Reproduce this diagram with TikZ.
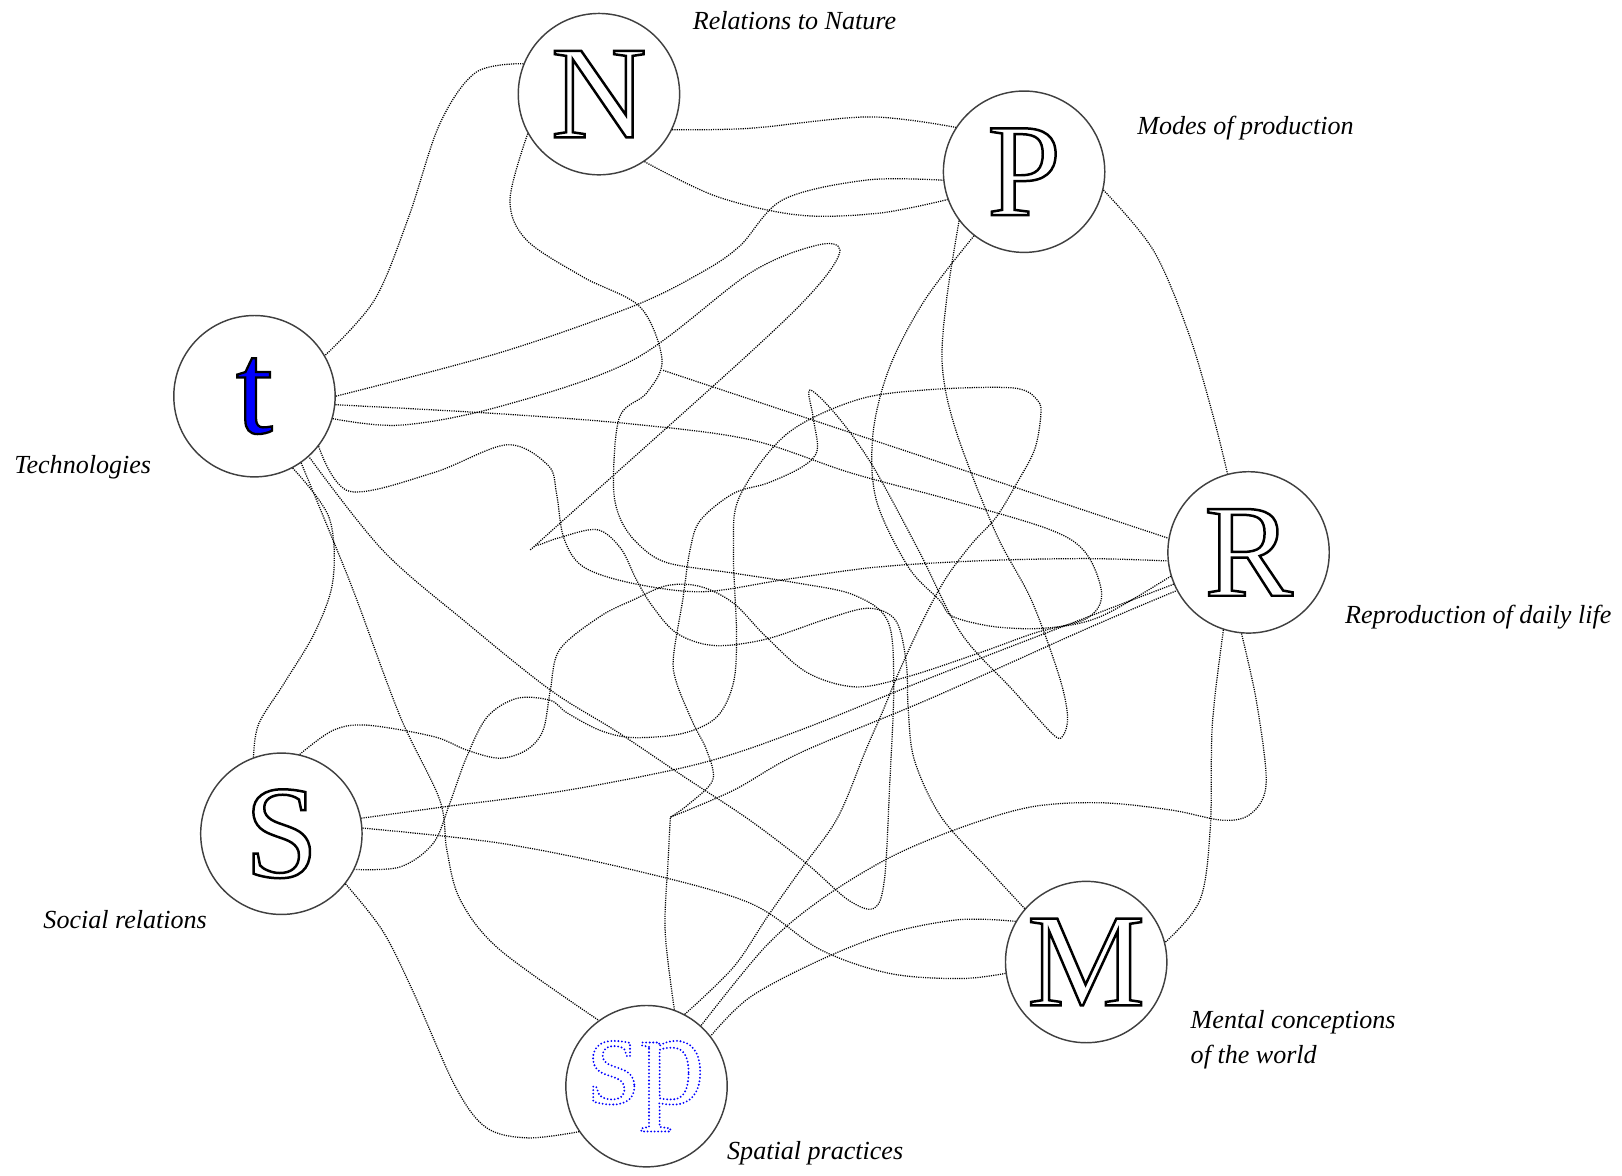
\documentclass[tikz,border=0pt]{standalone}
\usepackage{fontspec}
\setmainfont{Liberation Serif}
% outline lettering through the pdf text render mode
\newcommand\hollow[1]{\special{pdf:literal direct 1 Tr 1.2 w}#1\special{pdf:literal direct 0 Tr}}
\newcommand\inked[1]{\special{pdf:literal direct 2 Tr 0 0 0 RG 1.1 w}#1\special{pdf:literal direct 0 Tr}}
\newcommand\speckled[1]{\special{pdf:literal direct 1 Tr 1 w 1 J [0 1.7] 0 d}#1\special{pdf:literal direct 0 Tr [] 0 d 0 J}}
\begin{document}
\begin{tikzpicture}[x=0.5pt,y=-0.5pt,
  sphere/.style={circle,draw=black!75,line width=0.7pt,minimum size=78pt,inner sep=0pt,
    font=\fontsize{64}{64}\selectfont},
  caption/.style={font=\fontsize{12.6}{17}\selectfont\itshape},
  tie/.style={line width=0.6pt,dash pattern=on 0.55pt off 0.55pt,black},
  wiggle/.style={tie,smooth,tension=0.55}]
\useasboundingbox (0,0) rectangle (1568,1136);
% the seven spheres
\node[sphere] (N) at (579,91) {\hollow{N}};
\node[sphere] (P) at (990,166) {\hollow{P}};
\node[sphere] (t) at (246,383) {\color{blue}\inked{t}};
\node[sphere] (R) at (1207,534) {\hollow{R}};
\node[sphere] (S) at (272,806) {\hollow{S}};
\node[sphere] (M) at (1050,930) {\hollow{M}};
\node[sphere] (sp) at (625,1050) {\color{blue}\speckled{sp}};
% captions
\node[caption] (lN) at (768,20) {Relations to Nature};
\node[caption] (lP) at (1204,124) {Modes of production};
\node[caption] (lt) at (80,452) {Technologies};
\node[caption] (lR) at (1429,597) {Reproduction of daily life};
\node[caption] (lS) at (121,889) {Social relations};
\node[caption,anchor=west,align=left] (lM) at (1144,1005) {Mental conceptions\\of the world};
\node[caption] (lsp) at (788,1115) {Spatial practices};
% loose ends
\coordinate (hook) at (648,790);
\coordinate (stub) at (641,358);
% the tangle
\draw[wiggle] plot coordinates {(N.158) (460,70) (425,120) (395,210) (362,290) (t.30)};
\draw[wiggle] plot coordinates {(N.-26) (725,124) (840,113) (P.147)};
\draw[wiggle] plot coordinates {(N.-56) (693,190) (773,208) (850,206) (P.200)};
\draw[wiggle] plot coordinates {(t.0) (483,341) (612,296) (677,264) (715,238) (757,193) (838,174) (P.186)};
\draw[wiggle] plot coordinates {(N.209) (493,193) (509,232) (564,268) (619,297) (640,348) (625,380) (599,403) (593,467) (599,500) (616,525) (645,544) (709,554) (773,564) (825,575) (858,600) (864,660) (860,760) (855,850) (845,878) (820,870) (780,835) (725,793) (660,750) (596,707) (532,667) (451,602) (370,532) (t.-48)};
\draw[wiggle] plot coordinates {(t.-16) (387,411) (483,393) (612,348) (725,264) (790,237) (812,242) (790,277) (725,341) (530,516) (519,527) (540,520) (577,512) (600,530) (615,560) (630,585) (654,612) (690,624) (740,618) (800,598) (840,588) (866,600) (876,640) (878,686) (884,735) (910,790) (955,840) (M.139)};
\draw[wiggle] plot coordinates {(t.-6) (483,400) (612,410) (725,425) (822,457) (918,483) (1015,512) (1050,535) (1065,575) (1050,598) (1000,612) (950,630) (878,654) (827,664) (780,650) (740,615) (709,583) (677,567) (645,566) (612,580) (580,596) (541,628) (532,667) (525,706) (509,725) (483,733) (451,725) (419,712) (355,701) (322,706) (S.77)};
\draw[wiggle] plot coordinates {(P.217) (915,290) (911,355) (925,419) (963,516) (997,580) (1024,654) (1032,693) (1027,712) (1017,709) (979,667) (929,612) (888,532) (844,451) (810,403) (783,377) (786,403) (790,435) (776,451) (742,467) (709,477) (677,503) (667,532) (660,580) (651,635) (654,660) (670,699) (683,725) (689,754) (665,778) (hook)};
\draw[wiggle] plot coordinates {(hook) (709,764) (773,728) (900,675) (1050,608) (R.208)};
\draw[wiggle] plot coordinates {(P.232) (894,290) (860,355) (844,419) (847,483) (878,548) (908,580) (921,596) (963,606) (1013,607) (1064,596) (R.197)};
\draw[wiggle] plot coordinates {(sp.62) (709,935) (742,886) (776,838) (810,790) (837,725) (854,686) (871,645) (894,596) (915,558) (940,525) (963,500) (983,467) (1000,435) (1006,403) (1003,387) (979,375) (894,377) (827,387) (760,420) (715,480) (709,532) (712,612) (709,660) (693,693) (660,709) (612,713) (580,706) (548,689) (532,677) (500,675) (471,693) (451,732) (435,776) (419,815) (387,838) (S.-26)};
\draw[wiggle] plot coordinates {(sp.70) (643,900) (646,830) (hook)};
\draw[tie] (stub) -- (R.170);
\draw[wiggle] plot coordinates {(P.-13) (1115,242) (1149,322) (1173,403) (R.105)};
\draw[wiggle] plot coordinates {(R.252) (1172,700) (1170,800) (1160,870) (M.14)};
\draw[wiggle] plot coordinates {(R.265) (1215,680) (1224,757) (1210,786) (1183,793) (1132,783) (1064,776) (997,780) (929,800) (860,829) (793,870) (740,915) (sp.48)};
\draw[wiggle] plot coordinates {(M.150) (928,889) (860,902) (793,928) (725,964) (sp.38)};
\draw[wiggle] plot coordinates {(S.4) (483,815) (612,841) (725,873) (793,918) (860,941) (928,946) (M.188)};
\draw[wiggle] plot coordinates {(S.11) (429,780) (548,764) (677,738) (773,706) (900,655) (1050,597) (R.203)};
\draw[wiggle] plot coordinates {(S.-38) (370,900) (400,960) (440,1050) (470,1090) (510,1100) (sp.214)};
\draw[wiggle] plot coordinates {(t.-62) (318,500) (322,560) (305,610) (275,660) (250,700) (S.110)};
\draw[wiggle] plot coordinates {(t.-55) (326,532) (345,580) (387,693) (425,773) (432,822) (445,870) (483,918) (sp.126)};
\draw[wiggle] plot coordinates {(t.-38) (338,475) (419,457) (490,430) (530,450) (538,477) (545,520) (564,548) (612,564) (680,572) (760,560) (850,548) (950,542) (1050,540) (R.186)};
\end{tikzpicture}
\end{document}
